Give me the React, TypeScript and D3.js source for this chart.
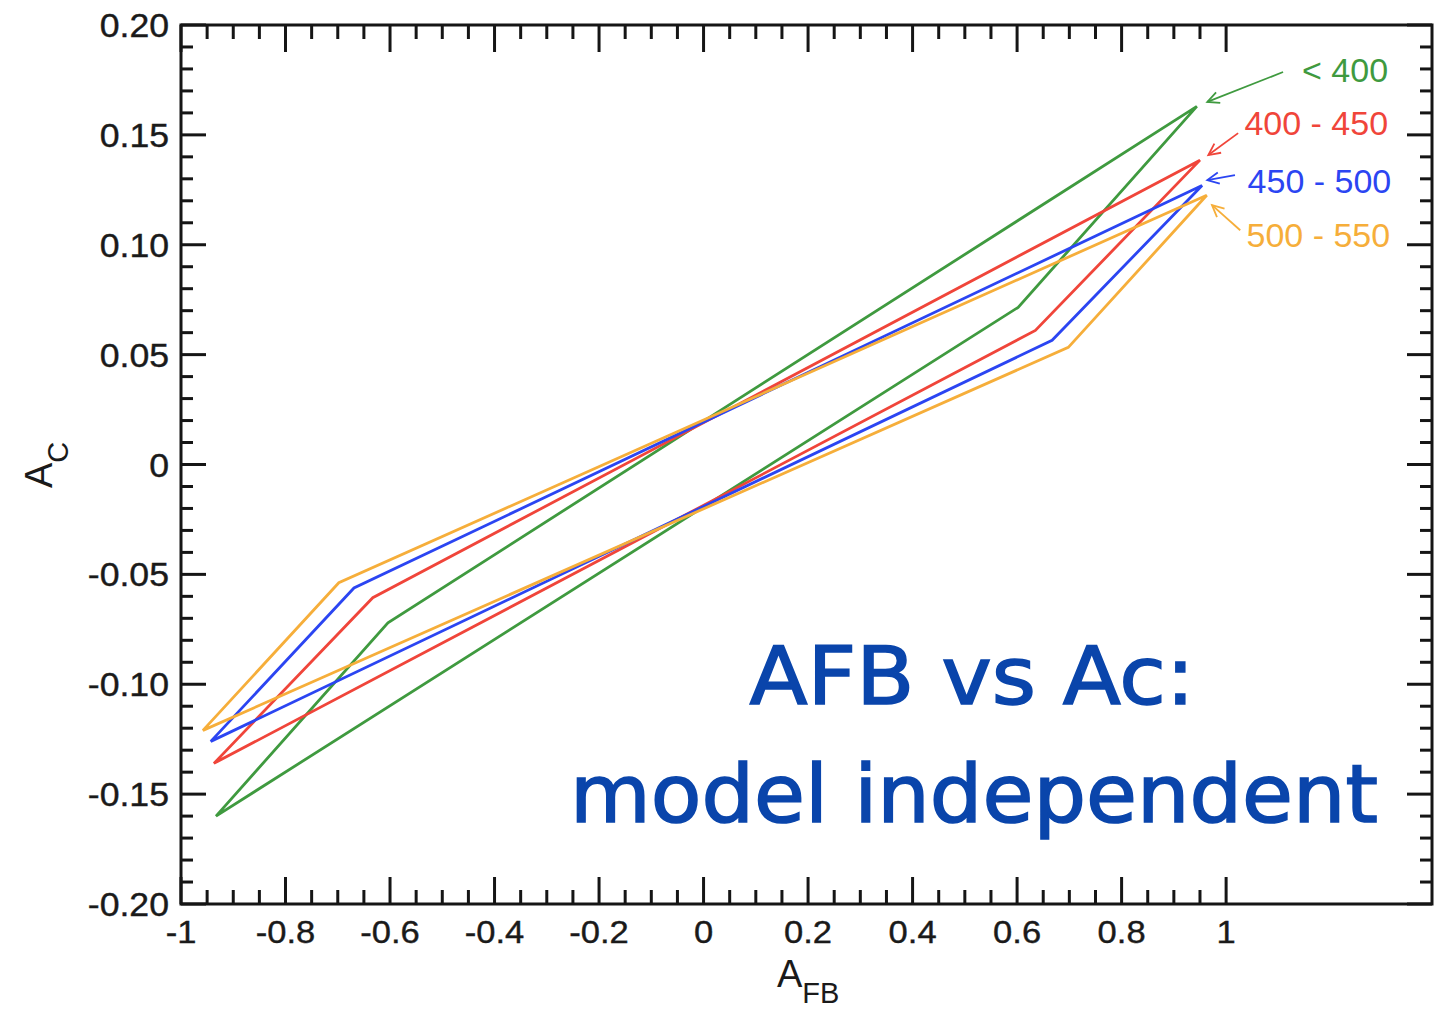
import React from "react";
import * as d3 from "d3";

// ---- data ----
const seriesNames = ["< 400", "400 - 450", "450 - 500", "500 - 550"];
const seriesColors = ["#3f9a3f", "#f0453a", "#2b45f2", "#f6ae3a"];

// vertices: upper-right corner, right knee, lower-left corner, left knee
const afbLt400 = [0.944, 0.602, -0.933, -0.604];
const acLt400 = [0.163, 0.0715, -0.16, -0.072];
const afb400to450 = [0.95, 0.635, -0.937, -0.633];
const ac400to450 = [0.1385, 0.061, -0.136, -0.0606];
const afb450to500 = [0.954, 0.667, -0.943, -0.669];
const ac450to500 = [0.127, 0.0565, -0.126, -0.0562];
const afb500to550 = [0.963, 0.698, -0.958, -0.698];
const ac500to550 = [0.1225, 0.0533, -0.121, -0.0538];

const seriesAfb = [afbLt400, afb400to450, afb450to500, afb500to550];
const seriesAc = [acLt400, ac400to450, ac450to500, ac500to550];

// annotation arrows (data coordinates): tail -> tip
const arrowTailAfb = [1.109, 1.023, 1.017, 1.027];
const arrowTailAc = [0.1786, 0.1508, 0.1317, 0.1066];
const arrowTipAfb = [0.964, 0.966, 0.964, 0.973];
const arrowTipAc = [0.165, 0.1408, 0.1294, 0.118];
const labelAfb = [1.31, 1.31, 1.316, 1.314];
const labelAc = [0.174, 0.1499, 0.1235, 0.0989];

const xMajorTicks = [-1, -0.8, -0.6, -0.4, -0.2, 0, 0.2, 0.4, 0.6, 0.8, 1];
const xTickLabels = ["-1", "-0.8", "-0.6", "-0.4", "-0.2", "0", "0.2", "0.4", "0.6", "0.8", "1"];
const yMajorTicks = [0.2, 0.15, 0.1, 0.05, 0, -0.05, -0.1, -0.15, -0.2];
const yTickLabels = ["0.20", "0.15", "0.10", "0.05", "0", "-0.05", "-0.10", "-0.15", "-0.20"];
const xDomain = [-1, 1.394];
const yDomain = [-0.2, 0.2];

const titleLines = ["AFB vs Ac:", "model independent"];

export default function App() {
  const W = 1436;
  const H = 1014;
  const left = 181, right = 1432, top = 25, bottom = 904;
  const x = d3.scaleLinear().domain(xDomain).range([left, right]);
  const y = d3.scaleLinear().domain(yDomain).range([bottom, top]);

  const xMinor = d3.range(-1, 1.0001, 0.05).filter(
    (v) => !xMajorTicks.some((m) => Math.abs(m - v) < 1e-6)
  );
  const yMinor = d3.range(-0.2, 0.2001, 0.01).filter(
    (v) => !yMajorTicks.some((m) => Math.abs(m - v) < 1e-6)
  );

  const line = d3
    .line<[number, number]>()
    .x((d) => x(d[0]))
    .y((d) => y(d[1]))
    .curve(d3.curveLinearClosed);

  const helv = "'Liberation Sans', Arial, Helvetica, sans-serif";
  const axisColor = "#151515";

  const arrowHead = (x1: number, y1: number, x2: number, y2: number) => {
    const ang = Math.atan2(y2 - y1, x2 - x1);
    const L = 13;
    const a = (26 * Math.PI) / 180;
    const p1 = [x2 - L * Math.cos(ang - a), y2 - L * Math.sin(ang - a)];
    const p2 = [x2 - L * Math.cos(ang + a), y2 - L * Math.sin(ang + a)];
    return `M${p1[0]},${p1[1]}L${x2},${y2}L${p2[0]},${p2[1]}`;
  };

  return (
    <svg width={W} height={H} style={{ display: "block", position: "absolute", left: 0, top: 0 }}>
      <rect width={W} height={H} fill="#fff" />
      {/* data polygons */}
      {seriesAfb.map((afb, i) => {
        const pts = afb.map((v, j) => [v, seriesAc[i][j]] as [number, number]);
        return (
          <path
            key={i}
            d={line(pts) || ""}
            fill="none"
            stroke={seriesColors[i]}
            strokeWidth={2.8}
            strokeLinejoin="miter"
          />
        );
      })}

      {/* frame */}
      <rect
        x={left}
        y={top}
        width={right - left}
        height={bottom - top}
        fill="none"
        stroke={axisColor}
        strokeWidth={3}
      />
      {/* x ticks */}
      {xMajorTicks.map((v, i) => (
        <g key={"xm" + i}>
          <line x1={x(v)} x2={x(v)} y1={bottom} y2={bottom - 27} stroke={axisColor} strokeWidth={3} />
          <line x1={x(v)} x2={x(v)} y1={top} y2={top + 27} stroke={axisColor} strokeWidth={3} />
          <text
            transform={`translate(${x(v)},943) scale(1.08,1)`}
            textAnchor="middle"
            fontFamily={helv}
            fontSize={32}
            fill="#1a1a1a"
            stroke="#1a1a1a"
            strokeWidth={0.4}
          >
            {xTickLabels[i]}
          </text>
        </g>
      ))}
      {xMinor.map((v, i) => (
        <g key={"xn" + i}>
          <line x1={x(v)} x2={x(v)} y1={bottom} y2={bottom - 14} stroke={axisColor} strokeWidth={3} />
          <line x1={x(v)} x2={x(v)} y1={top} y2={top + 14} stroke={axisColor} strokeWidth={3} />
        </g>
      ))}
      {/* y ticks */}
      {yMajorTicks.map((v, i) => (
        <g key={"ym" + i}>
          <line x1={left} x2={left + 25} y1={y(v)} y2={y(v)} stroke={axisColor} strokeWidth={3} />
          <line x1={right} x2={right - 25} y1={y(v)} y2={y(v)} stroke={axisColor} strokeWidth={3} />
          <text
            transform={`translate(169,${y(v) + 12}) scale(1.08,1)`}
            textAnchor="end"
            fontFamily={helv}
            fontSize={33}
            fill="#1a1a1a"
            stroke="#1a1a1a"
            strokeWidth={0.4}
          >
            {yTickLabels[i]}
          </text>
        </g>
      ))}
      {yMinor.map((v, i) => (
        <g key={"yn" + i}>
          <line x1={left} x2={left + 12} y1={y(v)} y2={y(v)} stroke={axisColor} strokeWidth={3} />
          <line x1={right} x2={right - 12} y1={y(v)} y2={y(v)} stroke={axisColor} strokeWidth={3} />
        </g>
      ))}

      {/* axis titles */}
      <text x={777} y={987} fontFamily={helv} fontSize={38} fill="#1a1a1a">
        A
        <tspan fontSize={29} dy={16}>
          FB
        </tspan>
      </text>
      <text
        transform="translate(52,488) rotate(-90)"
        fontFamily={helv}
        fontSize={38}
        fill="#1a1a1a"
      >
        A
        <tspan fontSize={29} dy={16}>
          C
        </tspan>
      </text>

      {/* annotations */}
      {seriesNames.map((name, i) => {
        const x1 = x(arrowTailAfb[i]);
        const y1 = y(arrowTailAc[i]);
        const x2 = x(arrowTipAfb[i]);
        const y2 = y(arrowTipAc[i]);
        return (
          <g key={"an" + i}>
            <line x1={x1} y1={y1} x2={x2} y2={y2} stroke={seriesColors[i]} strokeWidth={1.8} />
            <path d={arrowHead(x1, y1, x2, y2)} fill="none" stroke={seriesColors[i]} strokeWidth={1.8} />
            <text
              x={x(labelAfb[i])}
              y={y(labelAc[i])}
              textAnchor="end"
              fontFamily={helv}
              fontSize={34}
              fill={seriesColors[i]}
            >
              {name}
            </text>
          </g>
        );
      })}

      {/* slide title */}
      <text
        x={972}
        y={704}
        textAnchor="middle"
        fontFamily="'DejaVu Sans', sans-serif"
        fontSize={80}
        fill="#0a45ab"
        stroke="#0a45ab"
        strokeWidth={1.6}
        textLength={445}
        lengthAdjust="spacingAndGlyphs"
      >
        {titleLines[0]}
      </text>
      <text
        x={974}
        y={822}
        textAnchor="middle"
        fontFamily="'DejaVu Sans', sans-serif"
        fontSize={80}
        fill="#0a45ab"
        stroke="#0a45ab"
        strokeWidth={1.6}
        textLength={808}
        lengthAdjust="spacingAndGlyphs"
      >
        {titleLines[1]}
      </text>
    </svg>
  );
}
